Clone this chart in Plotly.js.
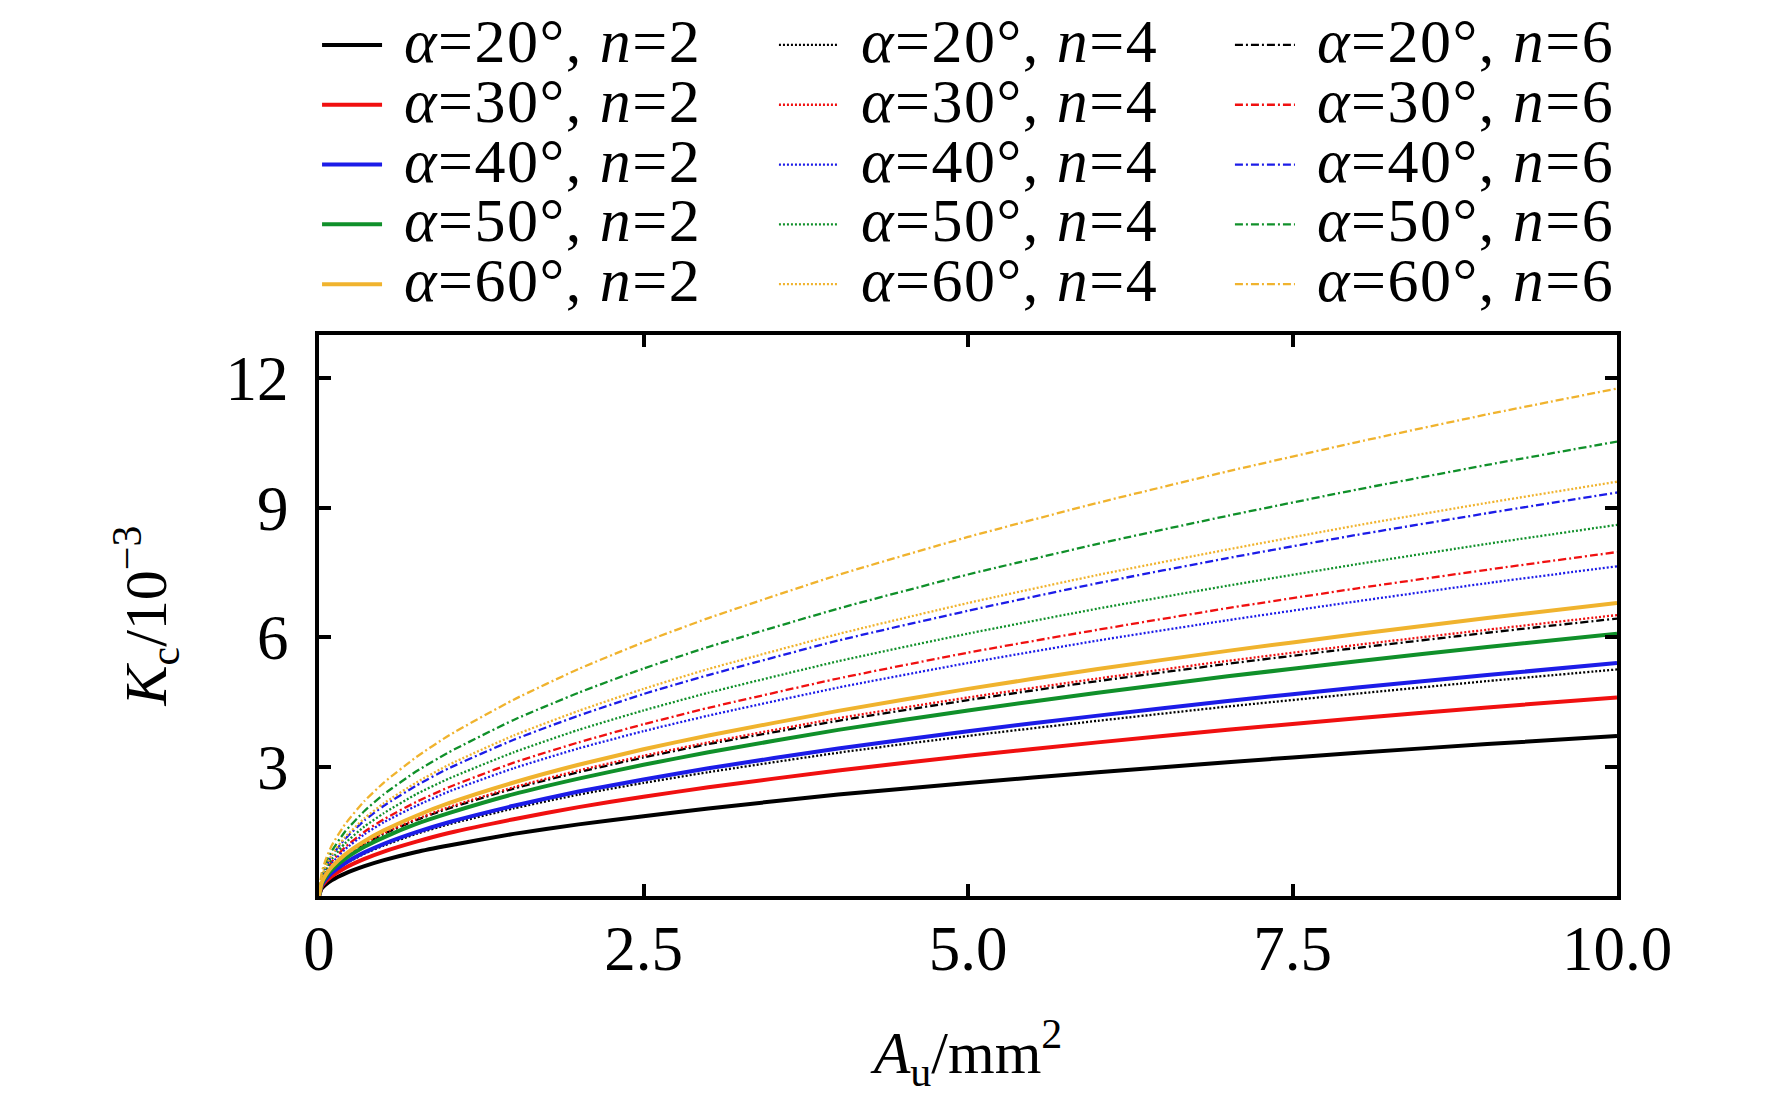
<!DOCTYPE html>
<html>
<head>
<meta charset="utf-8">
<script src="https://cdn.plot.ly/plotly-3.0.1.min.js"></script>
<style>
  html, body { margin: 0; padding: 0; background: #fff; }
  #chart { width: 1772px; height: 1095px; }
</style>
</head>
<body>
<div id="chart"></div>
<script>
// cutting area A_u (mm^2)
var au = [0, 0.02, 0.05, 0.1, 0.2, 0.35, 0.5, 0.75, 1, 1.5, 2, 2.5, 3, 4, 5, 6, 7, 8, 9, 10];

// K_c (x10^-3)
var kc_a20_n2 = [0, 0.17, 0.26, 0.37, 0.52, 0.69, 0.83, 1.02, 1.17, 1.44, 1.66, 1.85, 2.03, 2.35, 2.62, 2.87, 3.10, 3.32, 3.52, 3.71];
var kc_a30_n2 = [0, 0.21, 0.33, 0.46, 0.65, 0.86, 1.03, 1.26, 1.46, 1.78, 2.06, 2.30, 2.52, 2.91, 3.25, 3.56, 3.85, 4.12, 4.37, 4.60];
var kc_a40_n2 = [0, 0.24, 0.38, 0.54, 0.76, 1.01, 1.21, 1.48, 1.71, 2.09, 2.42, 2.70, 2.96, 3.42, 3.82, 4.18, 4.52, 4.83, 5.12, 5.40];
var kc_a50_n2 = [0, 0.27, 0.43, 0.61, 0.86, 1.14, 1.36, 1.67, 1.92, 2.36, 2.72, 3.04, 3.33, 3.85, 4.30, 4.71, 5.09, 5.44, 5.77, 6.08];
var kc_a60_n2 = [0, 0.30, 0.48, 0.68, 0.96, 1.27, 1.52, 1.86, 2.15, 2.63, 3.04, 3.40, 3.72, 4.29, 4.80, 5.26, 5.68, 6.07, 6.44, 6.79];

var kc_a20_n4 = [0, 0.23, 0.37, 0.52, 0.74, 0.98, 1.17, 1.44, 1.66, 2.03, 2.35, 2.62, 2.87, 3.32, 3.71, 4.06, 4.39, 4.69, 4.98, 5.25];
var kc_a30_n4 = [0, 0.29, 0.46, 0.65, 0.92, 1.22, 1.46, 1.78, 2.06, 2.52, 2.91, 3.25, 3.56, 4.12, 4.60, 5.04, 5.45, 5.82, 6.17, 6.51];
var kc_a40_n4 = [0, 0.34, 0.54, 0.76, 1.08, 1.43, 1.71, 2.09, 2.42, 2.96, 3.42, 3.82, 4.18, 4.83, 5.40, 5.92, 6.39, 6.83, 7.25, 7.64];
var kc_a50_n4 = [0, 0.38, 0.61, 0.86, 1.22, 1.61, 1.92, 2.36, 2.72, 3.33, 3.85, 4.30, 4.71, 5.44, 6.08, 6.66, 7.19, 7.69, 8.16, 8.60];
var kc_a60_n4 = [0, 0.43, 0.68, 0.96, 1.36, 1.80, 2.15, 2.63, 3.04, 3.72, 4.29, 4.80, 5.26, 6.07, 6.79, 7.44, 8.03, 8.59, 9.11, 9.60];

var kc_a20_n6 = [0, 0.29, 0.45, 0.64, 0.91, 1.20, 1.44, 1.76, 2.03, 2.49, 2.87, 3.21, 3.52, 4.06, 4.54, 4.98, 5.38, 5.75, 6.10, 6.43];
var kc_a30_n6 = [0, 0.36, 0.56, 0.80, 1.13, 1.49, 1.78, 2.18, 2.52, 3.09, 3.56, 3.98, 4.36, 5.04, 5.64, 6.17, 6.67, 7.13, 7.56, 7.97];
var kc_a40_n6 = [0, 0.42, 0.66, 0.94, 1.32, 1.75, 2.09, 2.56, 2.96, 3.62, 4.18, 4.68, 5.12, 5.92, 6.61, 7.25, 7.83, 8.37, 8.87, 9.35];
var kc_a50_n6 = [0, 0.47, 0.75, 1.05, 1.49, 1.97, 2.36, 2.89, 3.33, 4.08, 4.71, 5.27, 5.77, 6.66, 7.45, 8.16, 8.81, 9.42, 9.99, 10.53];
var kc_a60_n6 = [0, 0.53, 0.83, 1.18, 1.66, 2.20, 2.63, 3.22, 3.72, 4.55, 5.26, 5.88, 6.44, 7.44, 8.32, 9.11, 9.84, 10.52, 11.16, 11.76];

var alphas = [20, 30, 40, 50, 60];
var nValues = [2, 4, 6];
var xTickVals = [0, 2.5, 5, 7.5, 10];
var xTickText = ['0', '2.5', '5.0', '7.5', '10.0'];
var yTickVals = [3, 6, 9, 12];

var series = {
  2: [kc_a20_n2, kc_a30_n2, kc_a40_n2, kc_a50_n2, kc_a60_n2],
  4: [kc_a20_n4, kc_a30_n4, kc_a40_n4, kc_a50_n4, kc_a60_n4],
  6: [kc_a20_n6, kc_a30_n6, kc_a40_n6, kc_a50_n6, kc_a60_n6]
};

// styles
var colors = ['#000000', '#f01010', '#1c1ce8', '#10902a', '#f0b32e'];
var dashes = { 2: 'solid', 4: '2px,2px', 6: '8px,3px,2px,3px' };
var widths = { 2: 4, 4: 2.3, 6: 2.3 };
var legendIds = { 2: 'legend', 4: 'legend2', 6: 'legend3' };
var FONT = 'Liberation Serif, Times New Roman, serif';

var traces = [];
nValues.slice().reverse().forEach(function(n) {
  alphas.forEach(function(a, i) {
    traces.push({
      x: au, y: series[n][i],
      type: 'scatter', mode: 'lines',
      name: '<span style="font-size:62px;letter-spacing:1.5px">\u2005<i>α</i>=' + a + '°, <i>n</i>=' + n + '</span>',
      legend: legendIds[n],
      line: { color: colors[i], width: widths[n], dash: dashes[n], shape: 'spline', smoothing: 0.5 },
      hoverinfo: 'skip'
    });
  });
});

function legendBox(x) {
  return { x: x, xanchor: 'left', y: 1.5793, yanchor: 'top',
           font: { family: FONT, size: 43.7, color: '#000' },
           itemwidth: 60, bgcolor: 'rgba(0,0,0,0)', borderwidth: 0,
           traceorder: 'normal' };
}

var axisCommon = {
  showgrid: false, zeroline: false,
  showline: true, linecolor: '#000', linewidth: 4, mirror: 'ticks',
  ticks: 'inside', ticklen: 12, tickwidth: 4, tickcolor: '#000',
  tickfont: { family: FONT, size: 63, color: '#000' }
};

var layout = {
  width: 1772, height: 1095,
  paper_bgcolor: '#fff', plot_bgcolor: '#fff',
  margin: { l: 319, r: 155, t: 335, b: 199, autoexpand: false },
  showlegend: true,
  legend: legendBox(-0.0015),
  legend2: legendBox(0.3505),
  legend3: legendBox(0.7018),
  xaxis: Object.assign({}, axisCommon, {
    range: [0, 10], tickmode: 'array', tickvals: xTickVals, ticktext: xTickText,
    ticklabelstandoff: -6,
    title: { text: '<i>A</i><sub>u</sub>/mm<sup>2</sup>', standoff: 53,
             font: { family: FONT, size: 60, color: '#000' } }
  }),
  yaxis: Object.assign({}, axisCommon, {
    range: [0, 13], tickmode: 'array', tickvals: yTickVals,
    ticklabelstandoff: 14,
    title: { text: '<i>K</i><sub>c</sub>/10<sup>−3</sup>', standoff: 40,
             font: { family: FONT, size: 60, color: '#000' } }
  })
};

Plotly.newPlot('chart', traces, layout, { staticPlot: true });
</script>
</body>
</html>
